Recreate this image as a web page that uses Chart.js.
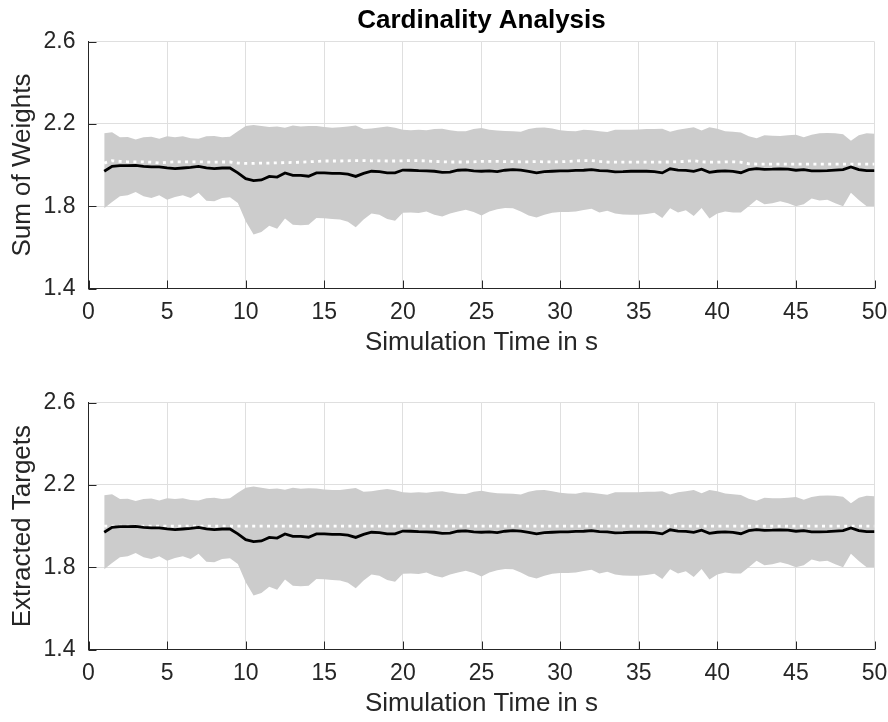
<!DOCTYPE html>
<html>
<head>
<meta charset="utf-8">
<script src="https://cdn.jsdelivr.net/npm/chart.js@4.4.1/dist/chart.umd.min.js"></script>
<style>
  html, body { margin: 0; padding: 0; background: #fff; }
  .panel { position: absolute; left: 0; width: 888px; height: 361px; }
</style>
</head>
<body>
<div class="panel" style="top:0"><canvas id="weightsChart" width="888" height="361"></canvas></div>
<div class="panel" style="top:361px"><canvas id="targetsChart" width="888" height="361"></canvas></div>
<script>
// simulation time in s (0.5 s steps)
const time = [
  1, 1.5, 2, 2.5, 3, 3.5, 4, 4.5, 5, 5.5,
  6, 6.5, 7, 7.5, 8, 8.5, 9, 9.5, 10, 10.5,
  11, 11.5, 12, 12.5, 13, 13.5, 14, 14.5, 15, 15.5,
  16, 16.5, 17, 17.5, 18, 18.5, 19, 19.5, 20, 20.5,
  21, 21.5, 22, 22.5, 23, 23.5, 24, 24.5, 25, 25.5,
  26, 26.5, 27, 27.5, 28, 28.5, 29, 29.5, 30, 30.5,
  31, 31.5, 32, 32.5, 33, 33.5, 34, 34.5, 35, 35.5,
  36, 36.5, 37, 37.5, 38, 38.5, 39, 39.5, 40, 40.5,
  41, 41.5, 42, 42.5, 43, 43.5, 44, 44.5, 45, 45.5,
  46, 46.5, 47, 47.5, 48, 48.5, 49, 49.5, 50
]

const xTicks = [0, 5, 10, 15, 20, 25, 30, 35, 40, 45, 50]
const yTicks = [1.4, 1.8, 2.2, 2.6]

// sum of weights: upper / lower edge of the grey band
const weightsUpper = [
  2.155, 2.16, 2.135, 2.137, 2.125, 2.135, 2.138, 2.128, 2.14, 2.135,
  2.14, 2.13, 2.128, 2.14, 2.142, 2.135, 2.138, 2.165, 2.19, 2.195,
  2.19, 2.185, 2.188, 2.182, 2.192, 2.188, 2.19, 2.19, 2.185, 2.182,
  2.184, 2.188, 2.193, 2.175, 2.178, 2.183, 2.188, 2.182, 2.172, 2.17,
  2.172, 2.17, 2.175, 2.177, 2.17, 2.165, 2.164, 2.175, 2.18, 2.172,
  2.168, 2.166, 2.165, 2.162, 2.175, 2.182, 2.183, 2.178, 2.17, 2.166,
  2.165, 2.172, 2.17, 2.165, 2.161, 2.172, 2.172, 2.172, 2.173, 2.175,
  2.175, 2.177, 2.162, 2.172, 2.178, 2.184, 2.168, 2.184, 2.177, 2.165,
  2.162, 2.158, 2.14, 2.13, 2.145, 2.143, 2.142, 2.145, 2.148, 2.135,
  2.148, 2.155, 2.156, 2.155, 2.15, 2.118, 2.145, 2.155, 2.152
]
const weightsLower = [
  1.79, 1.82, 1.848, 1.853, 1.869, 1.848, 1.84, 1.853, 1.832, 1.845,
  1.853, 1.84, 1.865, 1.827, 1.824, 1.84, 1.844, 1.816, 1.727, 1.662,
  1.675, 1.705, 1.69, 1.74, 1.71, 1.708, 1.71, 1.743, 1.742, 1.738,
  1.735, 1.725, 1.698, 1.735, 1.765, 1.758, 1.738, 1.73, 1.768, 1.77,
  1.767, 1.774, 1.758, 1.75, 1.765, 1.775, 1.783, 1.772, 1.755, 1.774,
  1.785, 1.792, 1.79, 1.775, 1.755, 1.745, 1.758, 1.768, 1.772, 1.772,
  1.775, 1.782, 1.788, 1.77, 1.778, 1.765, 1.76, 1.759, 1.759, 1.762,
  1.768, 1.743, 1.79, 1.77, 1.78, 1.752, 1.792, 1.74, 1.765, 1.774,
  1.77, 1.77, 1.8, 1.832, 1.81, 1.815, 1.824, 1.815, 1.8, 1.81,
  1.838, 1.828, 1.832, 1.815, 1.8, 1.865, 1.83, 1.8, 1.8
]
const weightsMean = [
  1.97, 1.994, 1.997, 1.997, 1.999, 1.994, 1.991, 1.991, 1.986, 1.983,
  1.986, 1.989, 1.994, 1.986, 1.983, 1.986, 1.986, 1.962, 1.934, 1.925,
  1.928, 1.945, 1.942, 1.962, 1.95, 1.95, 1.946, 1.962, 1.962, 1.96,
  1.96, 1.956, 1.945, 1.96, 1.97, 1.968, 1.962, 1.962, 1.976, 1.975,
  1.973, 1.972, 1.97, 1.965, 1.966, 1.975, 1.977, 1.972, 1.97, 1.972,
  1.968, 1.975, 1.978, 1.976, 1.97, 1.962, 1.968, 1.97, 1.972, 1.972,
  1.974, 1.975, 1.978, 1.973, 1.972, 1.967, 1.968, 1.97, 1.97, 1.97,
  1.968, 1.962, 1.982, 1.976, 1.974, 1.97, 1.98, 1.965, 1.97, 1.972,
  1.97, 1.963, 1.978, 1.983, 1.979, 1.98, 1.982, 1.98, 1.975, 1.978,
  1.972, 1.972, 1.973, 1.976, 1.978, 1.991, 1.978, 1.973, 1.973
]
// white dotted reference in the upper panel
const weightsRef = [
  2.01, 2.022, 2.018, 2.016, 2.016, 2.016, 2.014, 2.01, 2.014, 2.016,
  2.015, 2.016, 2.016, 2.015, 2.014, 2.015, 2.015, 2.01, 2.008, 2.008,
  2.01, 2.01, 2.011, 2.012, 2.013, 2.014, 2.016, 2.018, 2.02, 2.02,
  2.02, 2.021, 2.022, 2.022, 2.021, 2.021, 2.02, 2.02, 2.021, 2.022,
  2.022, 2.02, 2.018, 2.016, 2.015, 2.015, 2.015, 2.016, 2.018, 2.018,
  2.018, 2.017, 2.017, 2.016, 2.016, 2.017, 2.016, 2.016, 2.016, 2.018,
  2.02, 2.022, 2.022, 2.018, 2.015, 2.014, 2.014, 2.014, 2.014, 2.014,
  2.014, 2.015, 2.015, 2.016, 2.018, 2.022, 2.016, 2.014, 2.014, 2.016,
  2.016, 2.014, 2.006, 2.005, 2.005, 2.005, 2.005, 2.005, 2.005, 2.005,
  2.005, 2.005, 2.005, 2.005, 2.005, 2.005, 2.005, 2.005, 2.005
]

// extracted targets: band upper edge sits a touch lower, the rest reads the same
const targetsUpper = [
  2.15, 2.155, 2.132, 2.133, 2.122, 2.132, 2.134, 2.125, 2.136, 2.132,
  2.136, 2.127, 2.125, 2.136, 2.138, 2.132, 2.135, 2.162, 2.186, 2.192,
  2.186, 2.18, 2.183, 2.177, 2.186, 2.182, 2.184, 2.183, 2.178, 2.175,
  2.176, 2.18, 2.185, 2.167, 2.17, 2.175, 2.18, 2.174, 2.164, 2.162,
  2.164, 2.162, 2.167, 2.169, 2.162, 2.157, 2.156, 2.167, 2.172, 2.164,
  2.16, 2.158, 2.157, 2.154, 2.167, 2.174, 2.175, 2.17, 2.162, 2.158,
  2.157, 2.164, 2.162, 2.157, 2.153, 2.164, 2.164, 2.164, 2.165, 2.167,
  2.167, 2.169, 2.154, 2.164, 2.17, 2.176, 2.16, 2.176, 2.169, 2.158,
  2.155, 2.151, 2.133, 2.123, 2.138, 2.136, 2.135, 2.138, 2.141, 2.128,
  2.141, 2.148, 2.149, 2.148, 2.143, 2.111, 2.138, 2.148, 2.145
]
const targetsLower = weightsLower
const targetsMean = weightsMean
const trueTime = [1, 50]
const trueTargets = [2, 2]

const AXIS_COLOR = "#262626"
const GRID_COLOR = "#dfdfdf"
const BAND_COLOR = "#cccccc"
const FONT = "'Liberation Sans', Arial, Helvetica, sans-serif"

function points(xs, ys) {
  return xs.map((x, i) => ({ x: x, y: ys[i] }))
}

// MATLAB style inward tick marks on left and bottom axis
const inwardTicks = {
  id: "inwardTicks",
  afterDatasetsDraw(chart) {
    const { ctx, chartArea, scales } = chart
    const len = 8
    ctx.save()
    ctx.strokeStyle = AXIS_COLOR
    ctx.lineWidth = 1
    ctx.beginPath()
    xTicks.forEach(v => {
      const px = Math.round(scales.x.getPixelForValue(v)) + 0.5
      ctx.moveTo(px, chartArea.bottom)
      ctx.lineTo(px, chartArea.bottom - len)
    })
    yTicks.forEach(v => {
      const py = Math.round(scales.y.getPixelForValue(v)) + 0.5
      ctx.moveTo(chartArea.left, py)
      ctx.lineTo(chartArea.left + len, py)
    })
    ctx.stroke()
    ctx.restore()
  }
}

function buildChart(id, yTitle, upper, lower, mean, refX, refY, title) {
  const ctx = document.getElementById(id).getContext("2d")
  return new Chart(ctx, {
    type: "line",
    data: {
      datasets: [
        { label: "mean", data: points(time, mean), borderColor: "#000", borderWidth: 2.8,
          pointRadius: 0, fill: false, order: 0 },
        { label: "reference", data: points(refX, refY), borderColor: "#fff", borderWidth: 2.8,
          borderDash: [3, 4.4], pointRadius: 0, fill: false, order: 1 },
        { label: "upper", data: points(time, upper), borderWidth: 0, borderColor: "rgba(0,0,0,0)",
          backgroundColor: BAND_COLOR, pointRadius: 0, fill: "+1", order: 2 },
        { label: "lower", data: points(time, lower), borderWidth: 0, borderColor: "rgba(0,0,0,0)",
          pointRadius: 0, fill: false, order: 3 }
      ]
    },
    options: {
      responsive: false,
      animation: false,
      devicePixelRatio: 1,
      layout: { padding: { left: 0, right: 13.5, top: title ? 0 : 41.7, bottom: 0 } },
      plugins: {
        legend: { display: false },
        tooltip: { enabled: false },
        title: {
          display: !!title,
          text: title || "",
          fullSize: false,
          color: "#000",
          font: { family: FONT, size: 26, weight: "bold" },
          padding: { top: 5.5, bottom: 5 }
        }
      },
      scales: {
        x: {
          type: "linear",
          min: 0,
          max: 50,
          ticks: {
            stepSize: 5,
            autoSkip: false,
            maxRotation: 0,
            padding: 10,
            color: AXIS_COLOR,
            font: { family: FONT, size: 23 }
          },
          grid: { color: GRID_COLOR, drawTicks: false },
          border: { display: true, color: AXIS_COLOR },
          title: {
            display: true,
            text: "Simulation Time in s",
            color: AXIS_COLOR,
            font: { family: FONT, size: 26 },
            padding: { top: 0, bottom: 3 }
          },
          afterFit: s => { s.height = 72.5; s.paddingLeft = 0; s.paddingRight = 0 }
        },
        y: {
          type: "linear",
          min: 1.4,
          max: 2.6,
          ticks: {
            stepSize: 0.4,
            padding: 13,
            color: AXIS_COLOR,
            font: { family: FONT, size: 23 },
            callback: v => Number(v).toFixed(1)
          },
          grid: { color: GRID_COLOR, drawTicks: false },
          border: { display: true, color: AXIS_COLOR },
          title: {
            display: true,
            text: yTitle,
            color: AXIS_COLOR,
            font: { family: FONT, size: 26 },
            padding: { top: 7, bottom: 0 }
          },
          afterFit: s => { s.width = 88.5; s.paddingTop = 0; s.paddingBottom = 0 }
        }
      }
    },
    plugins: [inwardTicks]
  })
}

window.addEventListener("load", () => {
  buildChart("weightsChart", "Sum of Weights", weightsUpper, weightsLower, weightsMean,
    time, weightsRef, "Cardinality Analysis")
  buildChart("targetsChart", "Extracted Targets", targetsUpper, targetsLower, targetsMean,
    trueTime, trueTargets, null)
})
</script>
</body>
</html>
